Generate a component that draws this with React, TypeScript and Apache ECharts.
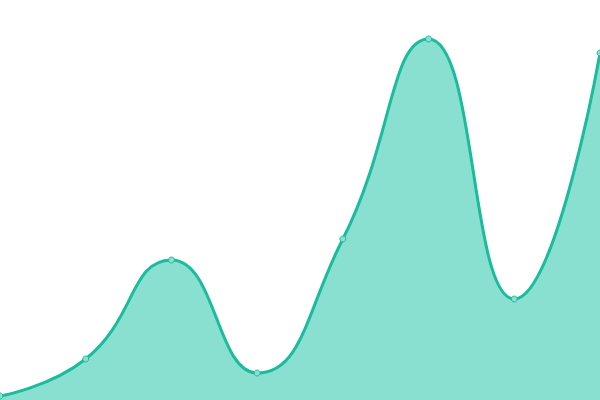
import { useEffect, useRef } from 'react'
import * as echarts from 'echarts'

const CATEGORIES = ['1', '2', '3', '4', '5', '6', '7', '8']
const VALUES = [4, 41, 140, 27, 161, 361, 101, 347]
const Y_MAX = 400

export default function App() {
  const chartRef = useRef<HTMLDivElement>(null)

  useEffect(() => {
    if (!chartRef.current) return
    const chart = echarts.init(chartRef.current, undefined, { renderer: 'svg' })

    const option: echarts.EChartsOption = {
      animation: false,
      grid: { top: 0, right: 0, bottom: 0, left: 0 },
      xAxis: {
        type: 'category',
        data: CATEGORIES,
        boundaryGap: false,
        show: false,
      },
      yAxis: {
        type: 'value',
        min: 0,
        max: Y_MAX,
        show: false,
      },
      series: [
        {
          type: 'line',
          data: VALUES,
          smooth: true,
          symbol: 'circle',
          symbolSize: 6,
          itemStyle: { color: '#8ae0d0', borderColor: '#1abc9c', borderWidth: 1 },
          lineStyle: { color: '#1abc9c', width: 3 },
          areaStyle: { color: '#8ae0d0', opacity: 1 },
        },
      ],
    }

    chart.setOption(option)
    return () => chart.dispose()
  }, [])

  return (
    <div
      ref={chartRef}
      style={{ position: 'fixed', left: 0, top: 0, width: 600, height: 400 }}
    />
  )
}
